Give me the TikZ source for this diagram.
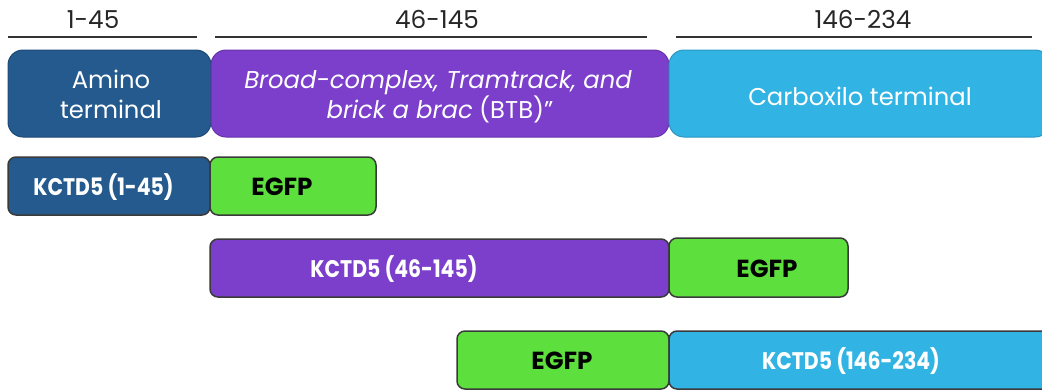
\documentclass[tikz,border=0pt]{standalone}
\usepackage{fontspec}
\setmainfont{Poppins}
\newfontfamily\lblfont{Poppins}[FakeStretch=0.85]
\newfontfamily\egfpfont{Poppins}
\newlength\pxu
\setlength\pxu{0.75pt}
\definecolor{cblue}{HTML}{245A8E}
\definecolor{cblueD}{HTML}{1D4A76}
\definecolor{cpurple}{HTML}{7B3FCB}
\definecolor{cpurpleD}{HTML}{6633AA}
\definecolor{ccyan}{HTML}{31B3E3}
\definecolor{ccyanD}{HTML}{2A98C2}
\definecolor{cgreen}{HTML}{5DE03D}
\definecolor{cedge}{HTML}{3A3A3A}
\tikzset{
  topbox/.style={rectangle, rounded corners=15\pxu, inner sep=0pt, line width=1\pxu},
  lowbox/.style={rectangle, rounded corners=8\pxu, inner sep=0pt, line width=1.5\pxu, draw=cedge},
  toptxt/.style={text=white, font=\fontsize{18.2}{20}\selectfont, anchor=base, inner sep=0pt},
  rangetxt/.style={text=black!85, font=\fontsize{18.5}{20}\selectfont, anchor=base, inner sep=0pt},
  lbltxt/.style={font=\lblfont\bfseries\fontsize{18}{20}\selectfont, anchor=base, inner sep=0pt},
  egfptxt/.style={font=\egfpfont\bfseries\fontsize{18.5}{20}\selectfont, anchor=base, inner sep=0pt, text=black},
  rangeline/.style={draw=black!80, line width=2\pxu},
}
\begin{document}
\begin{tikzpicture}[x=1\pxu, y=-1\pxu]
\useasboundingbox (0,0) rectangle (1042,390);
\clip (0,0) rectangle (1042,390);
% range labels and lines
\coordinate (l1a) at (8,37); \coordinate (l1b) at (197,37);
\coordinate (l2a) at (215,37); \coordinate (l2b) at (647,37);
\coordinate (l3a) at (676,37); \coordinate (l3b) at (1032,37);
\draw[rangeline] (l1a) -- (l1b);
\draw[rangeline] (l2a) -- (l2b);
\draw[rangeline] (l3a) -- (l3b);
\node[rangetxt] (r1) at (93,28) {1-45};
\node[rangetxt] (r2) at (437,28) {46-145};
\node[rangetxt] (r3) at (863,28) {146-234};
% top row
\node[topbox, fill=cblue, draw=cblueD, minimum width=203\pxu, minimum height=87\pxu] (amino) at (109.5,93.5) {};
\node[topbox, fill=cpurple, draw=cpurpleD, minimum width=458\pxu, minimum height=87\pxu] (btb) at (440,93.5) {};
\node[topbox, fill=ccyan, draw=ccyanD, minimum width=381\pxu, minimum height=87\pxu] (carb) at (859.5,93.5) {};
\node[toptxt] (amino1) at (111,88) {Amino};
\node[toptxt] (amino2) at (111,118) {terminal};
\node[toptxt] (btb1) at (438,88) {\itshape Broad-complex, Tramtrack, and};
\node[toptxt] (btb2) at (440,118) {{\itshape brick a brac} (BTB)\textquotedblright};
\node[toptxt] (carb1) at (860,105) {Carboxilo terminal};
% row 2
\node[lowbox, fill=cblue, minimum width=202\pxu, minimum height=58\pxu] (k1) at (109,186) {};
\node[lowbox, fill=cgreen, minimum width=166\pxu, minimum height=58\pxu] (g1) at (293,186) {};
\node[lbltxt, text=white] (k1t) at (103.5,195) {KCTD5 (1-45)};
\node[egfptxt] (g1t) at (282,195) {EGFP};
% row 3
\node[lowbox, fill=cpurple, minimum width=459\pxu, minimum height=58\pxu] (k2) at (439.5,268) {};
\node[lowbox, fill=cgreen, minimum width=179\pxu, minimum height=59\pxu] (g2) at (758.5,267.5) {};
\node[lbltxt, text=white] (k2t) at (394,277) {KCTD5 (46-145)};
\node[egfptxt] (g2t) at (767,277) {EGFP};
% row 4
\node[lowbox, fill=cgreen, minimum width=212\pxu, minimum height=58\pxu] (g3) at (563,360) {};
\node[lowbox, fill=ccyan, minimum width=391\pxu, minimum height=58\pxu] (k3) at (864.5,360) {};
\node[egfptxt] (g3t) at (562,369) {EGFP};
\node[lbltxt, text=white] (k3t) at (851,369) {KCTD5 (146-234)};
\end{tikzpicture}
\end{document}
